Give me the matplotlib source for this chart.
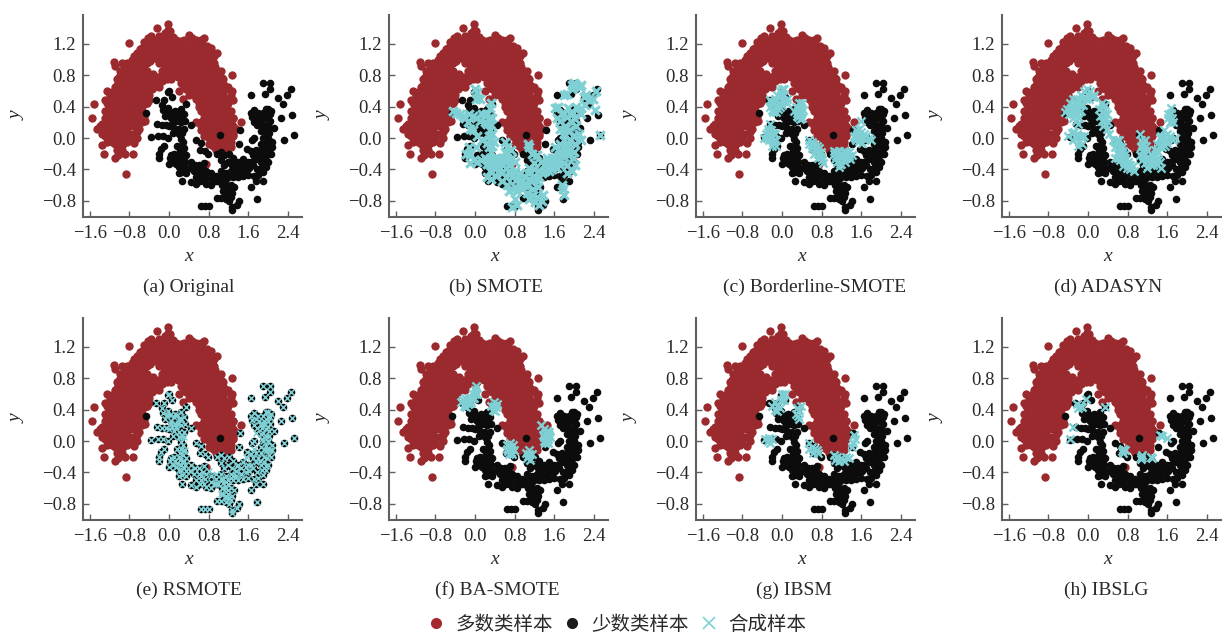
import numpy as np
import matplotlib
matplotlib.use('Agg')
import matplotlib.pyplot as plt
from matplotlib.lines import Line2D

plt.rcParams['font.family'] = ['Liberation Serif', 'Noto Sans CJK SC', 'DejaVu Sans']

# points
majority = np.array([
    (-.03, 1.45), (-.24, 1.40), (-.02, 1.38), (.03, 1.36), (-.08, 1.34),
    (-.43, 1.28), (-.36, 1.3), (.41, 1.31), (.71, 1.28), (-.2, 1.3), (-.1, 1.28), (0, 1.3), (.08, 1.29), (.47, 1.27),
    (-.8, 1.21), (-.5, 1.22), (-.42, 1.2), (-.3, 1.22), (-.22, 1.2), (-.12, 1.2), (-.03, 1.22), (.07, 1.2), (.17, 1.23),
    (.25, 1.23), (.38, 1.18), (.48, 1.2), (.58, 1.19), (.66, 1.2), (.77, 1.17),
    (-.65, 1.08), (-.58, 1.13), (-.48, 1.1), (-.38, 1.12), (-.28, 1.1), (-.18, 1.12), (-.08, 1.1), (.02, 1.12), (.12, 1.1),
    (.22, 1.12), (.32, 1.1), (.42, 1.12), (.52, 1.1), (.62, 1.12), (.72, 1.1), (.82, 1.1), (.98, 1.08),
    (-.75, 1.0), (-.68, 1.02), (-.58, .98), (-.48, 1.02), (-.38, .98), (-.28, 1.02), (-.18, 1.0), (-.08, .98), (.02, 1.02),
    (.12, .98), (.22, 1.02), (.32, .98), (.42, 1.02), (.52, .98), (.62, 1.02), (.72, 1.0), (.82, .98),
    (-1.12, .97), (-1.09, .92), (-.9, .93), (-.82, .9),
    (-.98, .85), (-.9, .88), (-.8, .9), (-.7, .88), (-.6, .92), (-.5, .88), (-.1, .88), (0, .9), (.1, .88),
    (.2, .92), (.3, .88), (.4, .9), (.5, .88), (.6, .92), (.7, .88), (.8, .9), (.92, .9), (.98, .85),
    (-1.0, .78), (-.92, .8), (-.82, .78), (-.72, .82), (-.62, .78), (-.52, .8), (-.42, .78), (-.32, .82), (-.22, .78),
    (-.12, .8), (-.02, .78), (.08, .82), (.18, .78), (.28, .8), (.38, .78), (.48, .82), (.58, .78), (.68, .8), (.78, .82),
    (.88, .78), (.98, .8), (1.08, .76), (1.27, .8),
    (-1.05, .68), (-.95, .7), (-.85, .68), (-.75, .72), (-.65, .68), (-.55, .7), (-.45, .72), (-.35, .68), (-.25, .7),
    (-.15, .72), (.25, .7), (.35, .7), (.45, .7), (.55, .72), (.65, .68), (.75, .7), (.85, .72), (.95, .68), (1.05, .7), (1.12, .68),
    (-1.25, .6), (-1.15, .58), (-1.05, .6), (-.95, .62), (-.85, .58), (-.75, .6), (-.65, .62), (-.55, .58), (-.45, .6),
    (-.35, .62), (.2, .6), (.35, .62), (.45, .6), (.55, .58), (.65, .6), (.75, .62), (.85, .6), (.95, .58), (1.05, .6), (1.18, .62), (1.27, .6),
    (-1.3, .48), (-1.2, .5), (-1.1, .52), (-1.0, .48), (-.9, .5), (-.8, .52), (-.7, .48), (-.6, .5), (-.5, .5), (-.4, .48),
    (.28, .5), (.55, .5), (.65, .52), (.75, .48), (.85, .5), (.95, .52), (1.05, .48), (1.15, .5), (1.3, .48),
    (-1.51, .43), (-1.22, .4), (-1.12, .42), (-1.02, .38), (-.92, .4), (-.82, .42), (-.72, .38), (-.62, .4), (-.52, .42), (-.44, .44),
    (.6, .4), (.7, .42), (.8, .38), (.9, .4), (1.0, .42), (1.1, .38), (1.18, .42),
    (-1.55, .25), (-1.2, .3), (-1.1, .28), (-1.0, .32), (-.9, .3), (-.8, .28), (-.7, .32), (-.6, .3), (-.5, .27),
    (.7, .3), (.8, .32), (.9, .28), (1.0, .3), (1.1, .32), (1.2, .27), (1.3, .26),
    (-1.35, .18), (-1.25, .2), (-1.15, .18), (-1.05, .22), (-.95, .2), (-.85, .18), (-.75, .22), (-.65, .2), (-.55, .2), (-.48, .22),
    (.55, .2), (.65, .2), (.75, .22), (.85, .18), (.95, .2), (1.05, .22), (1.15, .18), (1.25, .2), (1.45, .21),
    (-1.45, .12), (-1.35, .1), (-1.25, .12), (-1.15, .08), (-1.05, .1), (-.95, .12), (-.85, .08), (-.65, .08), (-.6, .12),
    (.65, .1), (.75, .08), (.85, .12), (.95, .1), (1.05, .12), (1.15, .08), (1.25, .1), (1.35, .12),
    (-1.3, .02), (-1.2, 0), (-1.1, .03), (-1.0, -.01), (-.9, .02), (-.8, 0), (-.65, 0),
    (.7, .03), (.8, 0), (.9, -.01), (1.0, .02), (1.1, 0), (1.2, -.02), (1.3, .02),
    (-1.36, -.085), (-1.1, -.08), (-1.0, -.1), (-.92, -.07), (-.7, -.06), (.8, -.08), (.88, -.1), (.95, -.1), (1.05, -.08), (1.17, -.1), (1.25, -.12),
    (-1.32, -.2), (-1.09, -.25), (-1.02, -.22), (-.89, -.2), (-.73, -.2), (1.03, -.2), (1.15, -.18), (1.22, -.3), (.75, -.33),
    (-.86, -.46),
])

# the dense inner part of the moon, one list of x per row
majority_rows = {
    1.25: [-.35, -.25, -.15, -.05, .05, .15, .3, .43, .55, .65],
    1.15: [-.55, -.45, -.35, -.25, -.15, -.05, .05, .15, .25, .35, .45, .55, .65, .75, .85],
    1.05: [-.7, -.6, -.5, -.4, -.3, -.2, -.1, 0, .1, .2, .3, .4, .5, .6, .7, .8, .9],
    .95: [-.95, -.85, -.75, -.65, -.55, -.45, -.2, -.1, 0, .1, .2, .3, .4, .5, .6, .7, .8, .9],
    .85: [-.85, -.75, -.65, -.55, -.45, -.15, -.05, .05, .15, .25, .35, .45, .55, .65, .75, .85, .95, 1.05],
    .75: [-1.05, -.95, -.85, -.75, -.65, -.55, -.45, -.35, -.25, -.15, -.05, .05, .3, .4, .5, .6, .7, .8, .9, 1.0, 1.1],
    .65: [-1.1, -1.0, -.9, -.8, -.7, -.6, -.5, -.4, -.3, -.2, .3, .4, .5, .6, .7, .8, .9, 1.0, 1.1, 1.2],
    .55: [-1.2, -1.1, -1.0, -.9, -.8, -.7, -.6, -.5, -.4, .4, .5, .6, .7, .8, .9, 1.0, 1.1, 1.25],
    .45: [-1.25, -1.15, -1.05, -.95, -.85, -.75, -.65, -.55, -.45, .6, .7, .8, .9, 1.0, 1.1, 1.2],
    .35: [-1.3, -1.15, -1.05, -.95, -.85, -.75, -.65, -.55, .65, .75, .85, .95, 1.05, 1.15, 1.25],
    .25: [-1.3, -1.15, -1.05, -.95, -.85, -.75, -.65, -.55, .7, .8, .9, 1.0, 1.1, 1.2, 1.3],
    .15: [-1.4, -1.3, -1.2, -1.1, -1.0, -.9, -.8, -.7, .65, .75, .85, .95, 1.05, 1.15, 1.3],
    .05: [-1.35, -1.25, -1.15, -1.05, -.95, -.85, -.75, .75, .85, .95, 1.05, 1.15, 1.3],
    -.05: [-1.25, -1.15, -1.05, -.95, -.85, .85, .95, 1.05, 1.15, 1.25],
    -.15: [-1.05, -.95, .95, 1.1],
}

minority_inside = np.array([(-.47, .32), (1.04, .04)])
minority = np.array([
    (1.65, .55), (1.9, .70), (2.05, .70), (2.05, .63), (1.94, .56), (2.2, .51), (2.38, .55), (2.46, .62), (2.3, .43),
    (2.48, .29), (2.26, .25), (2.52, .04), (2.32, -.02), (2.12, .13),
    (1.65, .32), (1.72, .36), (1.68, .27), (1.75, .28), (1.82, .25), (1.9, .32), (1.95, .37), (2.0, .37), (2.07, .34),
    (1.92, .25), (2.0, .25), (2.05, .22), (1.78, .16), (1.88, .17), (1.95, .15), (2.02, .13), (1.85, .09), (1.95, .06),
    (2.03, .06), (1.72, 0), (1.68, -.02), (1.9, 0), (2.0, -.01), (2.08, -.05), (1.95, -.06), (1.85, -.07), (1.58, -.14),
    (1.65, -.17), (1.75, -.15), (1.85, -.15), (1.95, -.13), (2.05, -.12), (1.92, -.2), (2.07, -.2), (1.83, -.25), (1.92, -.27),
    (1.75, -.27), (1.65, -.3), (2.0, -.3), (1.95, -.37), (1.87, -.37), (1.78, -.4), (1.9, -.43), (1.8, -.47), (1.72, -.48),
    (1.6, -.47), (1.9, -.55), (1.75, -.55), (1.66, -.62), (1.78, -.78),
    (1.43, .1), (1.41, -.08),
    (-.27, .49), (-.1, .49), (0, .6), (-.02, .58), (.07, .52), (-.15, .42), (-.12, .36), (-.05, .33), (.02, .33), (.1, .3),
    (.17, .33), (.25, .37), (.35, .43), (.3, .3), (.2, .28), (.13, .22), (.25, .2), (.32, .22), (-.25, .18), (-.15, .17),
    (-.07, .16), (0, .15), (.1, .13), (.2, .12), (.3, .12), (.44, .16), (.08, .07), (.27, .07), (-.37, .01), (-.22, .02),
    (-.12, .02), (-.03, 0), (.25, -.01), (.25, -.1), (.17, -.1), (-.1, -.1), (-.16, -.14), (-.2, -.2), (-.2, -.26), (.03, -.25),
    (.1, -.2), (.2, -.2), (.28, -.18), (.35, -.22), (0, -.33), (.08, -.3), (.17, -.28), (.25, -.3), (.33, -.3), (.45, -.3),
    (.2, -.37), (.27, -.43), (.35, -.45), (.5, -.42), (.2, -.45), (.6, -.35), (.7, -.32), (.55, -.02), (.65, -.06), (.62, -.15),
    (.72, -.17), (.78, -.2), (.27, -.55), (.45, -.56), (.55, -.58), (.62, -.55), (.7, -.55), (.75, -.58), (.85, -.6), (.9, -.55),
    (.65, -.45), (.75, -.42), (.85, -.45), (.95, -.48), (1.05, -.42), (1.15, -.45), (1.25, -.42), (1.35, -.38), (1.45, -.35),
    (1.55, -.33), (1.05, -.28), (1.12, -.22), (1.22, -.2), (1.3, -.25), (1.4, -.3), (1.5, -.27), (1.05, -.18), (.98, -.2),
    (1.0, -.55), (1.1, -.53), (1.2, -.5), (1.3, -.5), (1.4, -.5), (1.5, -.48), (1.15, -.6), (1.25, -.6), (1.1, -.67), (1.2, -.68),
    (1.28, -.7), (.97, -.76), (1.05, -.77), (1.15, -.78), (1.22, -.8), (1.42, -.8), (1.37, -.85), (1.27, -.88), (1.28, -.92),
    (.65, -.87), (.72, -.87), (.8, -.87), (1.6, -.3),
    (-.08, .28), (.05, .25), (.18, .22), (.24, .28), (.12, .35), (-.02, .38), (.06, .18), (.2, .05), (.28, -.05), (.3, -.13),
    (.22, -.15), (.3, -.25), (.22, -.24), (.12, -.25), (.05, -.22), (.15, -.33), (.25, -.37), (.35, -.38), (.42, -.38), (.52, -.35),
    (.6, -.42), (.68, -.4), (.55, -.5), (.65, -.5), (.72, -.48), (.85, -.52), (.95, -.55), (1.05, -.48), (1.15, -.52), (1.25, -.47),
    (1.35, -.45), (1.45, -.42), (1.55, -.4), (1.62, -.38), (1.7, -.35), (1.12, -.35), (1.2, -.3), (1.28, -.35), (1.38, -.32),
    (1.15, -.72), (1.25, -.75), (1.08, -.6), (1.2, -.62), (1.32, -.62), (1.72, .2), (1.8, .32), (1.85, .22), (2.0, .18), (1.9, .1),
    (2.0, 0), (1.92, -.1), (2.02, -.18), (1.98, -.22), (2.08, -.12), (1.85, -.3), (1.95, -.32), (2.05, .3), (1.8, -.22), (1.7, -.22),
])

smote_pts = np.array([
    (0, .62), (.05, .58), (.02, .5), (.1, .5), (-.45, .35), (-.38, .32), (-.3, .3), (-.25, .28), (-.2, .25), (-.12, .3),
    (-.05, .28), (.03, .25), (.1, .22), (.15, .3), (.22, .3), (.3, .38), (.33, .45), (.28, .25), (.25, .18), (.3, .1),
    (.35, .05), (.3, -.02), (.32, .17), (-.15, .2), (-.1, .12), (.35, -.1), (.28, -.12), (.6, -.05), (.65, -.12), (.72, -.15),
    (.6, -.18), (.55, -.25), (.65, -.25), (.75, -.25), (.8, -.3), (.7, -.35), (.6, -.3), (.45, -.25), (.38, -.27), (.3, -.25),
    (.2, -.25), (.12, -.28), (.05, -.3), (-.02, -.28), (-.1, -.32), (-.1, -.2), (-.12, -.12), (.25, -.33), (.35, -.35), (.45, -.35),
    (.3, -.42), (.25, -.5), (.32, -.52), (.42, -.48), (.55, -.45), (.68, -.42), (.75, -.5), (.85, -.52), (.95, -.55), (.55, -.55),
    (.65, -.6), (.75, -.65), (.85, -.68), (.8, -.78), (.85, -.85), (.75, -.88), (.95, -.65), (1.05, -.6), (1.15, -.55), (1.25, -.55),
    (1.05, -.7), (1.15, -.72), (1.25, -.75), (1.35, -.8), (1.3, -.85), (1.0, -.48), (1.1, -.45), (1.2, -.4), (1.3, -.42), (1.4, -.42),
    (1.1, -.38), (1.2, -.32), (1.33, -.3), (1.45, -.25), (1.55, -.25), (1.42, -.42), (1.55, -.4), (1.65, -.38), (1.72, -.35), (1.8, -.32),
    (1.1, -.12), (1.07, -.08), (1.15, -.2), (1.25, -.22), (1.7, -.22), (1.78, -.2), (1.88, -.22), (1.98, -.25), (2.02, -.35), (1.85, -.45),
    (1.78, -.65), (1.8, -.72), (1.75, -.6), (1.62, -.25), (1.62, -.12), (1.72, -.08), (1.8, -.02), (1.92, -.03), (2.02, -.08), (1.98, .02),
    (1.9, .1), (1.8, .05), (1.82, .15), (1.95, .2), (2.05, .15), (2.1, .05), (2.15, -.02), (1.72, .22), (1.65, .25), (1.62, .38),
    (1.68, .4), (1.8, .32), (1.88, .38), (1.98, .32), (2.05, .4), (2.15, .38), (2.22, .42), (2.3, .48), (2.38, .5), (2.2, .52),
    (2.25, .55), (2.42, .36), (2.15, .3), (2.45, .6), (2.52, .04), (1.95, .68), (2.05, .67), (2.12, .65), (2.15, .68), (1.85, .56),
    (1.8, .55), (1.95, .62), (2.0, .7), (-.05, .1), (.05, .03), (.15, -.02), (.02, -.12), (-.18, -.2), (.25, .3), (.35, .25),
    (.2, .2), (.28, .03), (.24, -.06), (.32, -.18), (.38, -.05), (.5, -.3), (.42, -.38), (.5, -.38), (.62, -.38), (.72, -.45),
    (.62, -.5), (.8, -.42), (.9, -.45), (.9, -.6), (.68, -.68), (.8, -.62), (1.0, -.6), (1.1, -.52), (1.2, -.48), (1.3, -.5),
    (1.4, -.35), (1.5, -.32), (1.6, -.32), (1.5, -.42), (1.35, -.45), (1.18, -.65), (1.28, -.62), (1.1, -.78), (1.22, -.82), (1.38, -.72),
    (1.72, -.28), (1.85, -.12), (1.78, -.12), (1.92, -.15), (1.7, -.15), (2.0, -.18), (1.85, -.35), (1.95, -.42), (1.8, .1), (1.92, .3),
    (2.0, .25), (1.75, .3), (1.72, .12), (1.85, .27), (1.9, -.08),
])

rsmote_extra = np.array([
    (2.0, .3), (1.92, .22), (1.85, .2), (1.75, .1), (1.88, .03), (1.98, -.1), (1.72, -.1), (1.55, -.2), (1.62, -.38), (1.45, -.42),
    (1.3, -.45), (1.2, -.55), (1.1, -.6), (1.05, -.68), (1.15, -.7), (1.22, -.72), (1.1, -.48), (.95, -.42), (.8, -.38), (.6, -.42),
    (.45, -.38), (.3, -.35), (.15, -.33), (.28, -.25), (.32, -.12), (.3, .05), (.22, .05), (.15, .18), (.25, .28), (.05, .22),
])

borderline_pts = np.array([
    (-.25, .48), (-.2, .42), (-.15, .5), (-.1, .55), (-.05, .6), (0, .62), (.05, .55), (.1, .5), (.02, .48), (-.08, .45),
    (-.15, .38), (-.2, .36), (-.05, .4), (.1, .45), (-.18, .46), (-.02, .54), (.05, .62), (-.12, .33), (-.25, .4),
    (-.12, .48), (-.12, .42), (-.05, .52), (.0, .42), (.05, .47), (-.18, .33), (-.22, .46), (.0, .56), (-.08, .37),
    (.25, .35), (.3, .32), (.35, .38), (.4, .45), (.38, .3), (.42, .36), (.33, .27), (.4, .25), (.28, .4), (.35, .44), (.32, .35),
    (.38, .4), (.3, .28), (.37, .34), (.36, .24),
    (-.37, 0), (-.32, .05), (-.28, .12), (-.25, .18), (-.2, .02), (-.27, -.02), (-.18, -.05), (-.13, -.1), (-.15, .05), (-.22, .1), (-.12, -.02),
    (-.3, 0), (-.24, .06), (-.2, -.1), (-.27, .05), (-.22, 0), (-.15, -.03), (-.28, .08), (-.18, .06),
    (.55, -.02), (.6, -.05), (.55, -.08), (.65, -.1), (.6, -.13), (.7, -.15), (.65, -.2), (.75, -.2), (.72, -.25), (.8, -.28),
    (.78, -.18), (.83, -.32), (.62, -.08), (.68, -.17), (.75, -.13), (.6, -.09), (.7, -.1), (.72, -.2), (.78, -.24), (.66, -.14),
    (1.05, -.17), (1.15, -.17), (1.25, -.17), (1.35, -.18), (1.42, -.22), (1.1, -.23), (1.2, -.25), (1.3, -.25), (1.12, -.3),
    (1.2, -.33), (1.28, -.3), (1.15, -.37), (1.37, -.27), (1.18, -.2), (1.28, -.21), (1.06, -.2), (1.15, -.28), (1.25, -.27),
    (1.35, -.23), (1.1, -.18), (1.22, -.22), (1.17, -.33), (1.3, -.18), (1.08, -.27),
    (1.6, .22), (1.55, .12), (1.5, .1), (1.45, .02), (1.55, .03), (1.6, .08), (1.65, 0), (1.7, .02), (1.75, 0), (1.62, -.06),
    (1.55, -.04), (1.5, -.03), (1.8, -.02), (1.52, .05), (1.58, -.0), (1.65, .05), (1.48, .0),
])

adasyn_pts = np.array([
    (-.47, .33), (-.42, .37), (-.36, .45), (-.3, .5), (-.22, .5), (-.15, .55), (-.08, .6), (-.02, .63), (.05, .6), (.1, .52),
    (.12, .55), (-.38, .3), (-.32, .32), (-.3, .25), (-.25, .22), (-.22, .3), (-.25, .38), (-.17, .42), (-.1, .42), (-.05, .5),
    (.03, .5), (-.3, .4), (-.15, .35), (-.2, .18), (-.18, .48), (-.12, .5), (.0, .56), (-.28, .45), (-.35, .38), (-.22, .43),
    (.06, .54), (-.3, .3), (-.2, .36), (-.18, .26),
    (.28, .45), (.35, .42), (.22, .37), (.3, .35), (.38, .3), (.25, .28), (.32, .22), (.4, .2), (.3, .15), (.38, .12), (.42, .05),
    (.3, .4), (.35, .3), (.28, .22), (.35, .18),
    (-.4, .03), (-.33, .07), (-.28, .08), (-.22, .05), (-.15, .03), (-.25, 0), (-.3, -.02), (-.18, -.05), (-.12, -.08), (-.08, .02), (-.2, -.1),
    (.5, -.02), (.55, -.05), (.62, -.03), (.55, -.12), (.62, -.12), (.68, -.12), (.6, -.2), (.67, -.2), (.75, -.2), (.65, -.28),
    (.72, -.3), (.8, -.3), (.7, -.36), (.78, -.38), (.85, -.4), (.92, -.42), (.9, -.36), (.55, -.25), (.58, -.08), (.62, -.16),
    (.7, -.16), (.68, -.24), (.75, -.26), (.6, -.26), (.8, -.35), (.85, -.35), (.58, -.02),
    (1.05, .05), (1.07, -.02), (1.1, -.1), (1.15, -.02), (1.1, -.17), (1.05, -.22), (1.15, -.2), (1.2, -.15), (1.22, -.25), (1.3, -.22),
    (1.1, -.28), (1.15, -.32), (1.25, -.32), (1.35, -.28), (1.45, -.3), (1.4, -.35), (1.48, -.38), (1.2, -.38), (1.32, -.35),
    (1.12, -.06), (1.17, -.1), (1.12, -.23), (1.2, -.28), (1.28, -.27), (1.38, -.32), (1.08, -.12), (1.18, -.26),
    (1.53, .1), (1.45, 0), (1.4, -.08), (1.5, -.05), (1.55, .03), (1.6, .05), (1.65, .02), (1.72, -.02), (1.6, -.06), (1.5, -.12),
    (1.42, -.18), (1.35, -.15), (1.42, -.28), (1.75, 0), (1.55, -.1), (1.48, .02), (1.45, -.1), (1.38, -.2), (1.55, -.02),
    (1.62, .3), (1.67, .32), (1.7, .25), (1.65, .2), (1.72, .2), (1.62, .25), (1.68, .38),
])

ba_smote_pts = np.array([
    (-.28, .5), (-.22, .45), (-.15, .47), (-.2, .55), (-.12, .55), (-.05, .6), (0, .65), (.02, .7), (.05, .6), (-.02, .55),
    (-.08, .5), (-.25, .52), (-.15, .52), (-.2, .48), (-.1, .48), (0, .6), (-.05, .55), (-.18, .43), (-.12, .5),
    (.33, .45), (.38, .5), (.42, .43), (.37, .4), (.45, .47), (.4, .38), (.38, .44),
    (1.33, .2), (1.4, .15), (1.42, .1), (1.5, .12), (1.45, .05), (1.4, 0), (1.48, -.02), (1.52, .05), (1.38, .08), (1.45, 0),
    (1.45, .13), (1.4, .05), (1.5, .08), (1.48, .03), (1.42, -.02),
    (.65, -.05), (.7, -.03), (.77, -.05), (.65, -.1), (.72, -.1), (.78, -.12), (.68, -.16), (.75, -.17), (.7, -.07), (.72, -.14), (.66, -.13),
    (1.03, -.15), (1.1, -.12), (1.15, -.17), (1.05, -.22), (1.12, -.24), (1.08, -.19), (1.1, -.16),
])

ibsm_pts = np.array([
    (-.2, .45), (-.15, .5), (-.1, .45), (-.15, .4), (-.05, .42), (-.1, .38), (0, .6), (.03, .57), (-.02, .52), (.07, .6), (.05, .52),
    (.28, .35), (.35, .4), (.38, .45), (.3, .42), (.33, .32), (.35, .28),
    (-.35, .02), (-.28, 0), (-.25, -.02), (-.2, .02), (-.27, .04),
    (.55, -.02), (.6, -.08), (.65, -.1), (.7, -.12), (.62, -.15), (.72, -.15), (.55, -.1),
    (1.05, -.18), (1.12, -.2), (1.2, -.22), (1.3, -.2), (1.15, -.25), (1.25, -.25), (1.08, -.24), (1.35, -.22),
    (1.45, .08), (1.47, .03), (1.43, -.02), (1.42, -.07),
])

ibslg_pts = np.array([
    (-.22, .47), (-.17, .45), (-.12, .43), (-.2, .42), (-.05, .54), (.35, .43), (-.3, .18), (-.37, .02),
    (.7, -.1), (.68, -.13), (.75, -.12), (.7, -.15), (1.07, -.2), (1.07, -.23), (1.1, -.18), (1.27, -.2), (1.3, -.22),
    (1.45, .08), (1.6, .04), (1.5, .07),
])

rsmote_pts = np.vstack([minority, rsmote_extra])
fill_x = [x for xs in majority_rows.values() for x in xs]
fill_y = [y for y, xs in majority_rows.items() for x in xs]

captions = ['(a) Original', '(b) SMOTE', '(c) Borderline-SMOTE', '(d) ADASYN',
            '(e) RSMOTE', '(f) BA-SMOTE', '(g) IBSM', '(h) IBSLG']
synthetic = [None, smote_pts, borderline_pts, adasyn_pts, rsmote_pts, ba_smote_pts, ibsm_pts, ibslg_pts]
legend_labels = ['多数类样本', '少数类样本', '合成样本']
xticks = [-1.6, -0.8, 0.0, 0.8, 1.6, 2.4]
yticks = [-0.8, -0.4, 0.0, 0.4, 0.8, 1.2]

RED = '#9b2a2e'
BLACK = '#0c0c0c'
CYAN = '#7fd0d4'
GRAY = '#606060'
TEXT = '#2a2a2a'

W, H = 1222, 636
fig = plt.figure(figsize=(W / 100, H / 100), dpi=100)

lefts = [83, 389, 696, 1002]
bottoms = [217, 520]
caption_x = [189, 496, 815, 1108, 189, 497, 794, 1106]
caption_y = [287, 590]

for i, name in enumerate(captions):
    row, col = i // 4, i % 4
    ax = fig.add_axes([lefts[col] / W, 1 - bottoms[row] / H, 219 / W, 202 / H])
    ax.scatter(majority[:, 0], majority[:, 1], s=36, color=RED, linewidths=0, zorder=2)
    ax.scatter(fill_x, fill_y, s=36, color=RED, linewidths=0, zorder=2)
    ax.scatter(minority[:, 0], minority[:, 1], s=30, color=BLACK, linewidths=0, zorder=3)
    ax.scatter(minority_inside[:, 0], minority_inside[:, 1], s=30, color=BLACK, linewidths=0, zorder=3)
    if synthetic[i] is not None:
        pts = synthetic[i]
        # RSMOTE marks sit right on the dots, SMOTE covers them almost fully
        if i == 4:
            ax.scatter(pts[:, 0], pts[:, 1], s=18, marker='x', color=CYAN, linewidths=1.1, zorder=4)
        elif i == 1:
            ax.scatter(pts[:, 0], pts[:, 1], s=38, marker='x', color=CYAN, linewidths=2.2, zorder=4)
        else:
            ax.scatter(pts[:, 0], pts[:, 1], s=34, marker='x', color=CYAN, linewidths=1.7, zorder=4)
    ax.set_xlim(-1.737, 2.687)
    ax.set_ylim(-1.006, 1.567)
    ax.set_xticks(xticks)
    ax.set_yticks(yticks)
    ax.set_xticklabels([f'{v:.1f}'.replace('-', '\u2212') for v in xticks])
    ax.set_yticklabels([f'{v:.1f}'.replace('-', '\u2212') for v in yticks])
    ax.tick_params(direction='in', length=4.5, width=1, color=GRAY, labelcolor=TEXT, labelsize=13.5, pad=5)
    ax.tick_params(axis='x', pad=6)
    for side in ['top', 'right']:
        ax.spines[side].set_visible(False)
    for side in ['left', 'bottom']:
        ax.spines[side].set_color(GRAY)
        ax.spines[side].set_linewidth(1.5)
    ax.set_xlabel('x', fontsize=14, style='italic', color=TEXT)
    ax.set_ylabel('y', fontsize=14, style='italic', color=TEXT)
    ax.xaxis.set_label_coords(0.48, -0.155)
    ax.yaxis.set_label_coords(-0.26, 0.5)
    fig.text(caption_x[i] / W, 1 - caption_y[row] / H, name, fontsize=14, color=TEXT, ha='center', va='center')

handles = [
    Line2D([], [], ls='none', marker='o', ms=8, color='#a52a30', mew=0),
    Line2D([], [], ls='none', marker='o', ms=8, color='#1c1a1c', mew=0),
    Line2D([], [], ls='none', marker='x', ms=9, color=CYAN, mew=1.2),
]
fig.legend(handles, legend_labels, ncol=3, frameon=False, loc='center', bbox_to_anchor=(615 / W, 1 - 624 / H),
           labelcolor=TEXT, handletextpad=0.4, columnspacing=0.4, borderpad=0, handlelength=1.2,
           prop={'family': ['Noto Sans CJK SC', 'DejaVu Sans'], 'size': 14})

fig.savefig('out.png', dpi=100)
